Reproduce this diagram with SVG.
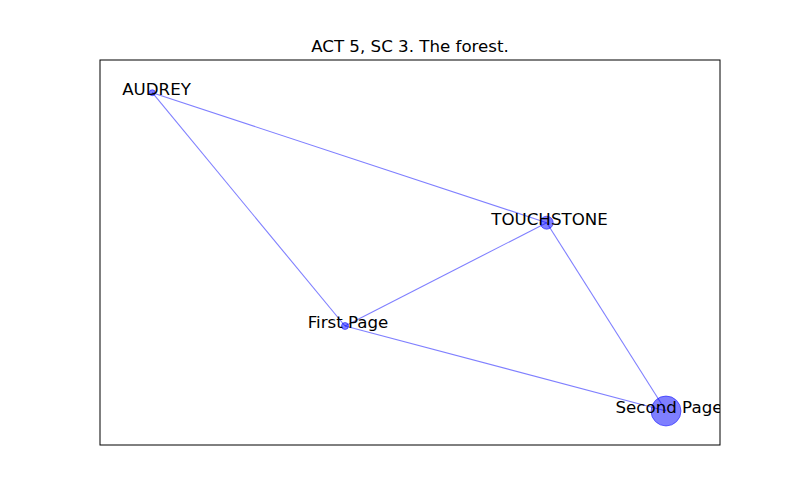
<svg xmlns="http://www.w3.org/2000/svg" width="800" height="500" viewBox="0 0 800 500">
<style>
text{font-family:"DejaVu Sans",sans-serif;font-size:16.67px;fill:#000;text-anchor:middle}
.e{stroke:#0000ff;stroke-opacity:0.5;stroke-width:1.1;fill:none}
.n{fill:#0000ff;fill-opacity:0.5;stroke:#0000ff;stroke-opacity:0.5;stroke-width:1}
</style>
<defs><clipPath id="ax"><rect x="100" y="60" width="620" height="385"/></clipPath></defs>
<rect x="0" y="0" width="800" height="500" fill="#fff"/>
<text x="410" y="52">ACT 5, SC 3. The forest.</text>
<g id="connectors" clip-path="url(#ax)">
<line class="e" x1="152.3" y1="92.7" x2="546.7" y2="222.7"/>
<line class="e" x1="152.3" y1="92.7" x2="345" y2="326"/>
<line class="e" x1="546.7" y1="222.7" x2="345" y2="326"/>
<line class="e" x1="546.7" y1="222.7" x2="666" y2="411"/>
<line class="e" x1="345" y1="326" x2="666" y2="411"/>
</g>
<g clip-path="url(#ax)">
<g id="audrey"><circle class="n" cx="152.3" cy="92.7" r="3"/><text x="156.5" y="95">AUDREY</text></g>
<g id="touchstone"><circle class="n" cx="546.7" cy="222.7" r="6.5"/><text x="549.5" y="225">TOUCHSTONE</text></g>
<g id="firstpage"><circle class="n" cx="345" cy="326" r="3.5"/><text x="348" y="328">First Page</text></g>
<g id="secondpage"><circle class="n" cx="666" cy="411" r="15"/><text x="669" y="412.5">Second Page</text></g>
</g>
<rect x="100" y="60" width="620" height="385" fill="none" stroke="#000" stroke-width="1"/>
</svg>
